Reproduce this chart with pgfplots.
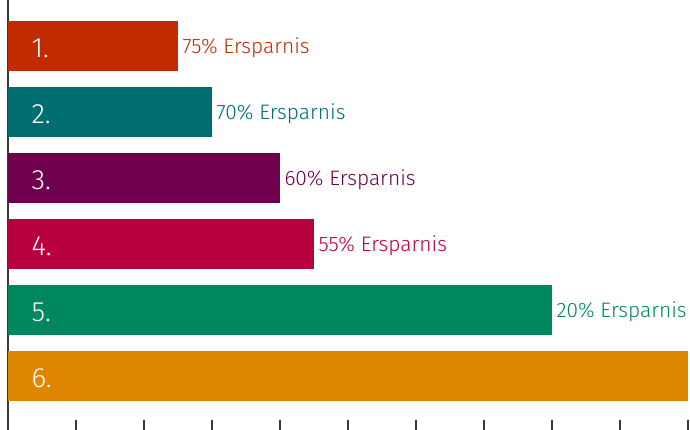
\documentclass[border=0pt]{standalone}
\usepackage{fontspec}
\usepackage{pgfplots}
\pgfplotsset{compat=1.18}
\setmainfont{Fira Sans Light}

\definecolor{c1}{HTML}{C22A00}
\definecolor{c2}{HTML}{006E70}
\definecolor{c3}{HTML}{6E004E}
\definecolor{c4}{HTML}{B8003F}
\definecolor{c5}{HTML}{00875E}
\definecolor{c6}{HTML}{DF8600}
\definecolor{axisgray}{HTML}{3A3A3A}

\tikzset{numlabel/.style={anchor=west, text=white, font=\fontsize{28}{32}\selectfont, xshift=20bp, yshift=-2bp}}

\begin{document}
\begin{tikzpicture}
\begin{axis}[
    at={(0,0)}, anchor=south west,
    scale only axis,
    width=680bp, height=430bp,
    xbar, bar width=50bp, bar shift=0pt,
    xmin=0, xmax=100,
    ymin=0.303, ymax=6.818,
    y dir=reverse,
    axis lines=left,
    x axis line style={draw=none},
    y axis line style={-, line width=2.2bp, axisgray},
    xtick={10,20,...,100}, xticklabels={},
    ytick=\empty,
    tick align=inside,
    major tick length=10bp,
    x tick style={axisgray, line width=1.2bp},
    clip=false,
    nodes near coords,
    point meta=explicit symbolic,
    every node near coord/.append style={anchor=west, xshift=1bp, yshift=-1.5bp, font=\fontsize{21}{24}\selectfont},
]
\addplot[fill=c1, draw=none, every node near coord/.append style={c1}] coordinates {(25,1) [75\% Ersparnis]};
\addplot[fill=c2, draw=none, every node near coord/.append style={c2}] coordinates {(30,2) [70\% Ersparnis]};
\addplot[fill=c3, draw=none, every node near coord/.append style={c3}] coordinates {(40,3) [60\% Ersparnis]};
\addplot[fill=c4, draw=none, every node near coord/.append style={c4}] coordinates {(45,4) [55\% Ersparnis]};
\addplot[fill=c5, draw=none, every node near coord/.append style={c5}] coordinates {(80,5) [20\% Ersparnis]};
\addplot[fill=c6, draw=none] coordinates {(100,6) []};

\node[numlabel] at (axis cs:0,1) {1.};
\node[numlabel] at (axis cs:0,2) {2.};
\node[numlabel] at (axis cs:0,3) {3.};
\node[numlabel] at (axis cs:0,4) {4.};
\node[numlabel] at (axis cs:0,5) {5.};
\node[numlabel] at (axis cs:0,6) {6.};
\end{axis}
\pgfresetboundingbox
\path (-8bp,0) rectangle (682bp,430bp);
\end{tikzpicture}
\end{document}
